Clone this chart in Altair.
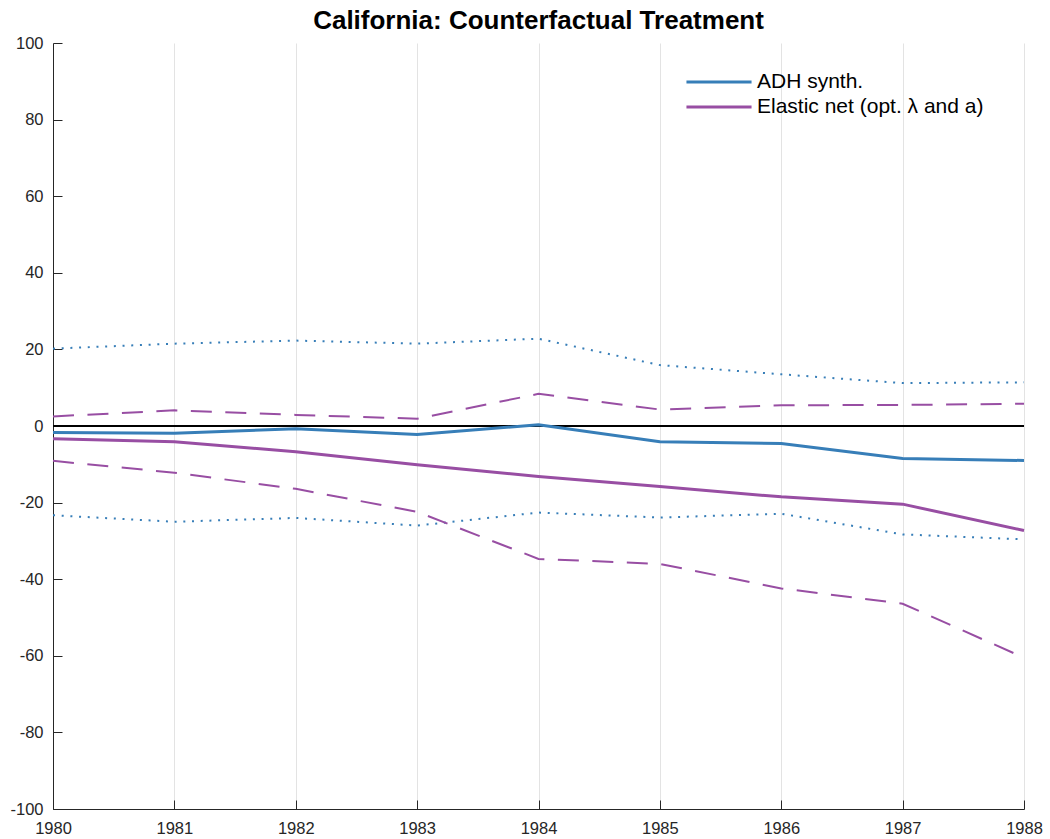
import altair as alt
import pandas as pd

years = [1980, 1981, 1982, 1983, 1984, 1985, 1986, 1987, 1988]
adh = [-1.7, -1.9, -0.7, -2.2, 0.3, -4.1, -4.6, -8.5, -9.0]
en = [-3.3, -4.1, -6.7, -10.1, -13.2, -15.8, -18.5, -20.4, -27.3]
adh_hi = [20.2, 21.5, 22.3, 21.5, 22.8, 15.9, 13.5, 11.2, 11.4]
adh_lo = [-23.3, -25.0, -24.0, -26.0, -22.6, -23.9, -22.9, -28.3, -29.6]
en_hi = [2.5, 4.1, 2.9, 1.9, 8.4, 4.3, 5.4, 5.5, 5.8]
en_lo = [-9.1, -12.2, -16.4, -22.4, -34.7, -36.0, -42.4, -46.4, -60.5]
y_ticks = [-100, -80, -60, -40, -20, 0, 20, 40, 60, 80, 100]
zero = [0]

series_names = ["ADH synth.", "Elastic net (opt. \u03bb and a)"]
BLUE = "#377eb8"
PURPLE = "#984ea3"
FONT = "Liberation Sans"
TXT = "#262626"

main = pd.DataFrame({
    "year": years * 2,
    "value": adh + en,
    "series": [series_names[0]] * len(years) + [series_names[1]] * len(years),
})
dotted = pd.DataFrame({
    "year": years * 2,
    "value": adh_hi + adh_lo,
    "band": ["hi"] * len(years) + ["lo"] * len(years),
})
dashed = pd.DataFrame({
    "year": years * 2,
    "value": en_hi + en_lo,
    "band": ["hi"] * len(years) + ["lo"] * len(years),
})
zero_df = pd.DataFrame({"value": zero})

xs = alt.Scale(domain=[1980, 1988], nice=False, zero=False)
ys = alt.Scale(domain=[-100, 100], nice=False)

x_main = alt.X("year:Q", scale=xs, axis=alt.Axis(
    values=years, format="d", grid=True, gridColor="#e3e3e3", gridWidth=1,
    ticks=False, domainColor=TXT, domainWidth=1, labelFont=FONT, labelFontSize=16.5,
    labelColor=TXT, labelPadding=11, labelFlush=False, labelOverlap=False, title=None))
y_main = alt.Y("value:Q", scale=ys, axis=alt.Axis(
    values=y_ticks, grid=False, ticks=False, domainColor=TXT, domainWidth=1,
    labelFont=FONT, labelFontSize=16.5, labelColor=TXT, labelPadding=10,
    labelExpr="'' + datum.value", labelOverlap=False, title=None))

x_tick = alt.X("year:Q", scale=xs, axis=alt.Axis(
    orient="top", offset=-766, values=years, labels=False, domain=False, grid=False,
    ticks=True, tickSize=9, tickColor=TXT, tickWidth=1, title=None))
y_tick = alt.Y("value:Q", scale=ys, axis=alt.Axis(
    orient="right", offset=-971, values=y_ticks, labels=False, domain=False, grid=False,
    ticks=True, tickSize=9, tickColor=TXT, tickWidth=1, title=None))

x_none = alt.X("year:Q", scale=xs, axis=None)
y_none = alt.Y("value:Q", scale=ys, axis=None)

zero_line = alt.Chart(zero_df).mark_rule(color="black", strokeWidth=2).encode(
    y=alt.Y("value:Q", scale=ys, axis=None))

dotted_lines = alt.Chart(dotted).mark_line(
    color=BLUE, strokeWidth=2, strokeDash=[2, 6.7], strokeCap="butt").encode(
    x=x_main, y=y_main, detail="band:N")

dashed_lines = alt.Chart(dashed).mark_line(
    color=PURPLE, strokeWidth=2, strokeDash=[21, 13.5], strokeCap="butt").encode(
    x=x_none, y=y_none, detail="band:N")

main_lines = alt.Chart(main).mark_line(strokeWidth=3).encode(
    x=x_tick, y=y_tick,
    color=alt.Color("series:N", scale=alt.Scale(domain=series_names, range=[BLUE, PURPLE]),
                    legend=alt.Legend(
                        orient="none", legendX=654, legendY=27, title=None,
                        symbolType="M-3.1,0L3.1,0", symbolSize=441, symbolStrokeWidth=3,
                        labelFont=FONT, labelFontSize=21, labelColor="black",
                        labelOffset=26, rowPadding=3, padding=0, labelLimit=500)),
    order=alt.Order("year:Q"))

chart = alt.layer(zero_line, dotted_lines, dashed_lines, main_lines).resolve_axis(
    x="independent", y="independent"
).properties(
    width=971, height=766,
    title=alt.TitleParams("California: Counterfactual Treatment", font=FONT, fontSize=26,
                          fontWeight="bold", color="black", anchor="middle", frame="group",
                          offset=1),
    autosize=alt.AutoSizeParams(type="none"),
    padding={"left": 53, "top": 43, "right": 26, "bottom": 30},
    background="white",
).configure_view(stroke=None)

chart.save("out.html", embed_options={"renderer": "svg", "actions": False})
